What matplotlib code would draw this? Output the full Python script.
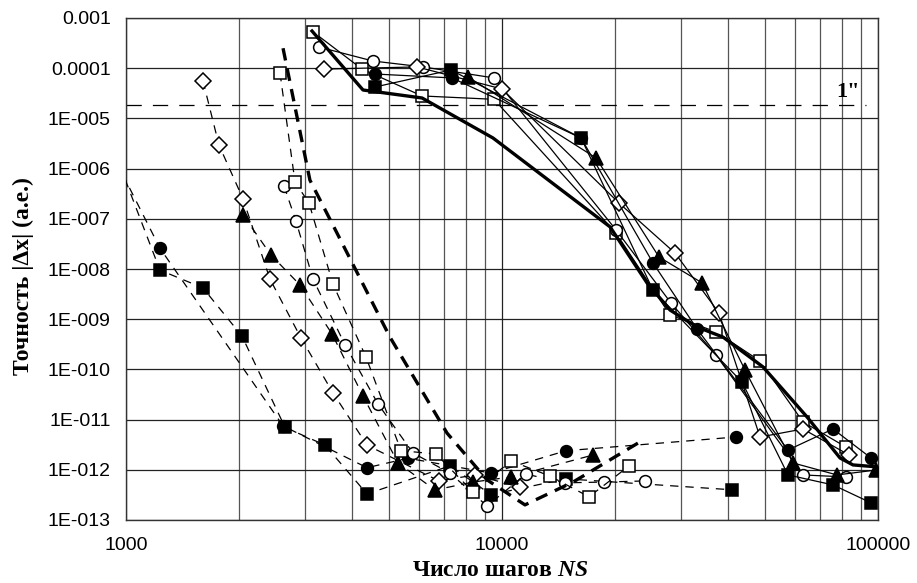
import matplotlib
matplotlib.use('Agg')
import matplotlib.pyplot as plt
from matplotlib.ticker import FixedLocator, FixedFormatter, NullFormatter, LogLocator

plt.rcParams['lines.scale_dashes'] = False
plt.rcParams['mathtext.fontset'] = 'custom'
plt.rcParams['mathtext.it'] = 'Liberation Serif:bold:italic'
plt.rcParams['mathtext.rm'] = 'Liberation Serif:bold'
plt.rcParams['font.family'] = ['Liberation Sans', 'DejaVu Sans']

# ---------------- data ----------------
# dashed (thin) series
ns_sqf_d = [900, 1231, 1602, 2035, 2648, 3383, 4375, 7272, 9348, 14805, 40900]
err_sqf_d = [4.3e-6, 9.5e-9, 4.2e-9, 4.6e-10, 7.0e-12, 3.1e-12, 3.3e-13, 1.2e-12, 3.2e-13, 6.6e-13, 4.0e-13]

ns_cf_d = [900, 1231, 2616, 4375, 5623, 9348, 14805, 41920]
err_cf_d = [2.7e-6, 2.6e-8, 7.5e-12, 1.1e-12, 1.7e-12, 8.6e-13, 2.4e-12, 4.5e-12]

ns_dm_d = [1602, 1767, 2047, 2415, 2921, 3552, 4375, 6798, 8479, 11165]
err_dm_d = [5.6e-5, 2.95e-6, 2.5e-7, 6.3e-9, 4.2e-10, 3.4e-11, 3.1e-12, 6.0e-13, 7.9e-13, 4.5e-13]

ns_tr_d = [2047, 2430, 2903, 3531, 4269, 5290, 6634, 8376, 10566, 17458]
err_tr_d = [1.19e-7, 1.9e-8, 4.8e-9, 5.1e-10, 2.95e-11, 1.37e-12, 3.96e-13, 5.7e-13, 7.2e-13, 1.97e-12]

ns_co_d = [2632, 2832, 3143, 3823, 4680, 5798, 7272, 9123, 11582, 14715, 18677, 24010]
err_co_d = [4.5e-7, 9.0e-8, 6.3e-9, 3.1e-10, 2.05e-11, 2.16e-12, 8.6e-13, 1.9e-13, 8.2e-13, 5.5e-13, 5.7e-13, 6.0e-13]

ns_so_d = [2568, 2815, 3067, 3552, 4347, 5388, 6675, 8376, 10566, 13418, 17037, 21770]
err_so_d = [8.0e-5, 5.4e-7, 2.06e-7, 5.0e-9, 1.77e-10, 2.4e-12, 2.07e-12, 3.6e-13, 1.5e-12, 7.5e-13, 2.9e-13, 1.19e-12]

ns_thick_d = [2616, 3084, 3663, 5035, 7140, 9125, 11510, 15450, 23280]
err_thick_d = [2.5e-4, 5.9e-7, 4.75e-8, 4.4e-10, 5.4e-12, 6.3e-13, 2.0e-13, 5.7e-13, 3.6e-12]

# solid series
ns_so_s = [3143, 4244, 6129, 9522, 20103, 27990, 37080, 48560, 63170, 82200]
err_so_s = [5.3e-4, 9.6e-5, 2.8e-5, 2.4e-5, 5.2e-8, 1.21e-9, 5.6e-10, 1.47e-10, 9.0e-12, 2.84e-12]

ns_co_s = [3261, 4538, 6167, 9522, 20103, 28150, 37080, 63170, 82200]
err_co_s = [2.64e-4, 1.39e-4, 1.06e-4, 6.4e-5, 6.0e-8, 2.1e-9, 1.93e-10, 7.9e-13, 7.2e-13]

ns_dm_s = [3363, 5942, 10000, 20475, 28850, 37770, 48560, 63170, 83740]
err_dm_s = [9.6e-5, 1.06e-4, 3.85e-5, 2.06e-7, 2.08e-8, 1.33e-9, 4.5e-12, 6.5e-12, 1.97e-12]

ns_cf_s = [4594, 7362, 16228, 25210, 33010, 57630, 75920, 95800]
err_cf_s = [7.66e-5, 6.4e-5, 4.07e-6, 1.32e-8, 6.4e-10, 2.48e-12, 6.5e-12, 1.72e-12]

ns_sqf_s = [4594, 7317, 16228, 25210, 43490, 57630, 75920, 95800]
err_sqf_s = [4.22e-5, 9.2e-5, 4.07e-6, 3.8e-9, 5.6e-11, 7.9e-13, 5.0e-13, 2.2e-13]

ns_tr_s = [8121, 17783, 26160, 34040, 44300, 59430, 77800, 98790]
err_tr_s = [6.7e-5, 1.63e-6, 1.73e-8, 5.3e-9, 9.7e-11, 1.37e-12, 7.9e-13, 9.9e-13]

ns_thick_s = [3124, 4269, 6129, 9464, 19383, 24300, 27990, 33010, 38710, 49450, 64750, 79250, 85810, 100000]
err_thick_s = [5.5e-4, 3.68e-5, 2.55e-5, 4.07e-6, 6.9e-8, 5.3e-9, 1.52e-9, 7.0e-10, 4.4e-10, 1.12e-10,
               1.13e-11, 1.72e-12, 1.25e-12, 1.14e-12]

one_arcsec = 1.85e-5
one_arcsec_ns = [1000, 92900]
one_arcsec_label = '1"'

xtick_vals = [1000, 10000, 100000]
xtick_labels = ['1000', '10000', '100000']
ytick_vals = [1e-13, 1e-12, 1e-11, 1e-10, 1e-9, 1e-8, 1e-7, 1e-6, 1e-5, 1e-4, 1e-3]
ytick_labels = ['1E-013', '1E-012', '1E-011', '1E-010', '1E-009', '1E-008',
                '1E-007', '1E-006', '1E-005', '0.0001', '0.001']

# ---------------- figure ----------------
W, H = 917, 583
fig = plt.figure(figsize=(W / 100, H / 100), dpi=100)
ax = fig.add_axes([126 / W, 1 - 520 / H, 752 / W, 502 / H])
ax.set_xscale('log')
ax.set_yscale('log')
ax.set_xlim(1000, 100000)
ax.set_ylim(1e-13, 1e-3)

ax.xaxis.set_major_locator(FixedLocator(xtick_vals))
ax.xaxis.set_major_formatter(FixedFormatter(xtick_labels))
ax.xaxis.set_minor_locator(LogLocator(base=10, subs=range(2, 10)))
ax.xaxis.set_minor_formatter(NullFormatter())
ax.yaxis.set_major_locator(FixedLocator(ytick_vals))
ax.yaxis.set_major_formatter(FixedFormatter(ytick_labels))
ax.yaxis.set_minor_locator(LogLocator(base=10, subs=range(2, 10)))
ax.yaxis.set_minor_formatter(NullFormatter())

ax.grid(True, which='major', axis='both', color='#222222', lw=0.9)
ax.grid(True, which='minor', axis='x', color='#555555', lw=0.9)
ax.set_axisbelow(True)

ax.tick_params(axis='x', which='both', length=0, pad=12, labelsize=14)
ax.tick_params(axis='y', which='major', length=0, pad=11, labelsize=14)
ax.tick_params(axis='y', which='minor', direction='in', length=6, width=0.8)
for s in ax.spines.values():
    s.set_color('#333333')
    s.set_linewidth(1.0)

thin = dict(color='black', lw=0.9, dashes=(6, 5), mec='black', mew=1.1, zorder=3)
solid = dict(color='black', lw=0.9, ls='-', mec='black', mew=1.1, zorder=3)

# dashed series
ax.plot(ns_sqf_d, err_sqf_d, marker='s', ms=8.5, mfc='black', **thin)
ax.plot(ns_cf_d, err_cf_d, marker='o', ms=8.5, mfc='black', **thin)
ax.plot(ns_dm_d, err_dm_d, marker='D', ms=8.5, mfc='white', **thin)
ax.plot(ns_tr_d, err_tr_d, marker='^', ms=10, mfc='black', **thin)
ax.plot(ns_co_d, err_co_d, marker='o', ms=8.5, mfc='white', **thin)
ax.plot(ns_so_d, err_so_d, marker='s', ms=8.5, mfc='white', **thin)

# solid series
ax.plot(ns_so_s, err_so_s, marker='s', ms=8.5, mfc='white', **solid)
ax.plot(ns_co_s, err_co_s, marker='o', ms=8.5, mfc='white', **solid)
ax.plot(ns_dm_s, err_dm_s, marker='D', ms=8.5, mfc='white', **solid)
ax.plot(ns_cf_s, err_cf_s, marker='o', ms=8.5, mfc='black', **solid)
ax.plot(ns_sqf_s, err_sqf_s, marker='s', ms=8.5, mfc='black', **solid)
ax.plot(ns_tr_s, err_tr_s, marker='^', ms=10, mfc='black', **solid)

# thick curves without markers
ax.plot(ns_thick_d, err_thick_d, color='black', lw=2.4, dashes=(9, 6), zorder=5)
ax.plot(ns_thick_s, err_thick_s, color='black', lw=2.4, ls='-', zorder=5)

# 1 arcsec line
ax.plot(one_arcsec_ns, [one_arcsec, one_arcsec], color='black', lw=0.9, dashes=(11, 8), zorder=2)
ax.text(83200, 3.36e-5, one_arcsec_label, family='Liberation Serif', fontweight='bold',
        fontsize=16, ha='center', va='center', zorder=6)

fig.text(500 / W, 1 - 570 / H, r'Число шагов $\mathit{NS}$', family='Liberation Serif',
         fontweight='bold', fontsize=17, ha='center', va='center')
fig.text(23 / W, 1 - 276 / H, 'Точность |Δx| (a.e.)', family='Liberation Serif',
         fontweight='bold', fontsize=17, ha='center', va='center', rotation=90)

fig.savefig('out.png', dpi=100)
